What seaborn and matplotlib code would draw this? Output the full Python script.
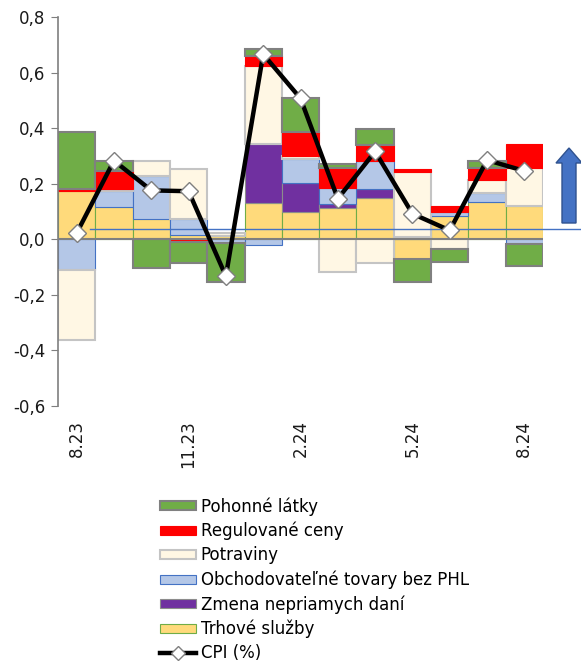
import numpy as np
import pandas as pd
import seaborn as sns
import matplotlib.pyplot as plt
from matplotlib.patches import Patch, FancyArrow
from matplotlib.lines import Line2D
from matplotlib.ticker import FuncFormatter

# data
months = ["8.23", "9.23", "10.23", "11.23", "12.23", "1.24", "2.24",
          "3.24", "4.24", "5.24", "6.24", "7.24", "8.24"]
tick_months = ["8.23", "11.23", "2.24", "5.24", "8.24"]

trhove_sluzby = [0.172, 0.116, 0.072, 0.016, 0.012, 0.132, 0.098, 0.114, 0.150, -0.072, 0.084, 0.134, 0.120]
nepriame_dane = [0.0, 0.0, 0.0, 0.0, 0.0, 0.210, 0.106, 0.012, 0.032, 0.0, 0.0, 0.0, 0.0]
obchodovatelne = [-0.110, 0.058, 0.155, 0.056, -0.015, -0.022, 0.084, 0.057, 0.100, 0.008, 0.014, 0.034, -0.018]
potraviny = [-0.254, 0.008, 0.053, 0.181, 0.010, 0.282, 0.012, -0.118, -0.084, 0.235, -0.034, 0.046, 0.136]
regulovane = [0.010, 0.065, 0.0, -0.010, 0.0, 0.036, 0.087, 0.075, 0.058, 0.009, 0.020, 0.044, 0.086]
pohonne = [0.204, 0.036, -0.105, -0.074, -0.140, 0.024, 0.123, 0.012, 0.056, -0.082, -0.048, 0.024, -0.078]
cpi = [0.022, 0.283, 0.176, 0.173, -0.133, 0.666, 0.507, 0.146, 0.316, 0.092, 0.032, 0.285, 0.246]
ref_level = 0.037

# stacking order from zero outwards: (label, values, face, edge, linewidth)
series = [
    ("Trhové služby", trhove_sluzby, "#FFDA7B", "#70AD47", 0.8),
    ("Zmena nepriamych daní", nepriame_dane, "#7030A0", "#8C8C8C", 0.8),
    ("Obchodovateľné tovary bez PHL", obchodovatelne, "#B4C7E7", "#4472C4", 0.8),
    ("Potraviny", potraviny, "#FFF7E4", "#C4C4C4", 1.5),
    ("Regulované ceny", regulovane, "#FF0000", "#FF0000", 0.8),
    ("Pohonné látky", pohonne, "#70AD47", "#808080", 1.5),
]

plt.rcParams['font.family'] = ['DejaVu Sans']
plt.rcParams['font.size'] = 12

fig = plt.figure(figsize=(5.81, 6.63), dpi=100)
ax = fig.add_axes([58 / 581, 1 - 406 / 663, 485 / 581, 389 / 663])

n = len(months)
idx = list(range(n))
pos_base = np.zeros(n)
neg_base = np.zeros(n)
for label, vals, face, edge, lw in series:
    vals = np.array(vals)
    base = np.where(vals >= 0, pos_base, neg_base)
    df = pd.DataFrame({"pos": idx, "value": vals, "bottom": base})
    df = df[df["value"] != 0]
    sns.barplot(data=df, x="pos", y="value", order=idx, bottom=df["bottom"].values,
                color=face, edgecolor=edge, linewidth=lw, width=1.0,
                saturation=1, errorbar=None, ax=ax)
    pos_base += np.clip(vals, 0, None)
    neg_base += np.clip(vals, None, 0)

# zero line and the blue reference line
ax.axhline(0, color="#7F7F7F", lw=1.5, zorder=3)
ax.axhline(ref_level, xmin=0.066, xmax=1.08, color="#4472C4", lw=1, clip_on=False, zorder=4)

# CPI line
sns.lineplot(x=idx, y=cpi, ax=ax, color="black", lw=3.2, marker="D", markersize=9,
             markerfacecolor="white", markeredgecolor="#7F7F7F", markeredgewidth=1,
             sort=False, zorder=5)

ax.set_xlim(-0.5, n - 0.5)
ax.set_ylim(-0.6, 0.8)
ax.set_yticks(np.arange(-0.6, 0.81, 0.2))
ax.yaxis.set_major_formatter(FuncFormatter(lambda v, p: f"{v:.1f}".replace(".", ",").replace("-0,0", "0,0")))
ax.set_xticks([months.index(m) for m in tick_months])
ax.set_xticklabels(tick_months, rotation=90, va="top")
ax.tick_params(axis="x", length=0, pad=10, labelcolor="#1A1A1A")
ax.tick_params(axis="y", direction="out", length=5, color="#7F7F7F", labelcolor="#1A1A1A", pad=4)
ax.set_xlabel("")
ax.set_ylabel("")
for s in ["top", "right", "bottom"]:
    ax.spines[s].set_visible(False)
ax.spines["left"].set_color("#7F7F7F")
ax.spines["left"].set_linewidth(1.2)

# blue arrow on the right
fig.add_artist(FancyArrow(5.69, 4.40, 0, 0.75, width=0.14, head_width=0.26, head_length=0.15,
                          length_includes_head=True, facecolor="#4472C4", edgecolor="#2F528F",
                          lw=1, transform=fig.dpi_scale_trans))

# legend
legend_order = ["Pohonné látky", "Regulované ceny", "Potraviny",
                "Obchodovateľné tovary bez PHL", "Zmena nepriamych daní", "Trhové služby"]
style = {s[0]: s for s in series}
handles = [Patch(facecolor=style[k][2], edgecolor=style[k][3], linewidth=style[k][4]) for k in legend_order]
handles.append(Line2D([], [], color="black", lw=3.2, marker="D", markersize=7,
                      markerfacecolor="white", markeredgecolor="#7F7F7F"))
labels = legend_order + ["CPI (%)"]
fig.legend(handles, labels, loc="upper left", bbox_to_anchor=(160 / 581, 1 - 497 / 663),
           frameon=False, borderpad=0, borderaxespad=0, handlelength=2.15, handleheight=0.45,
           handletextpad=0.3, labelspacing=0.37, fontsize=12)

fig.savefig("out.png", dpi=100)
